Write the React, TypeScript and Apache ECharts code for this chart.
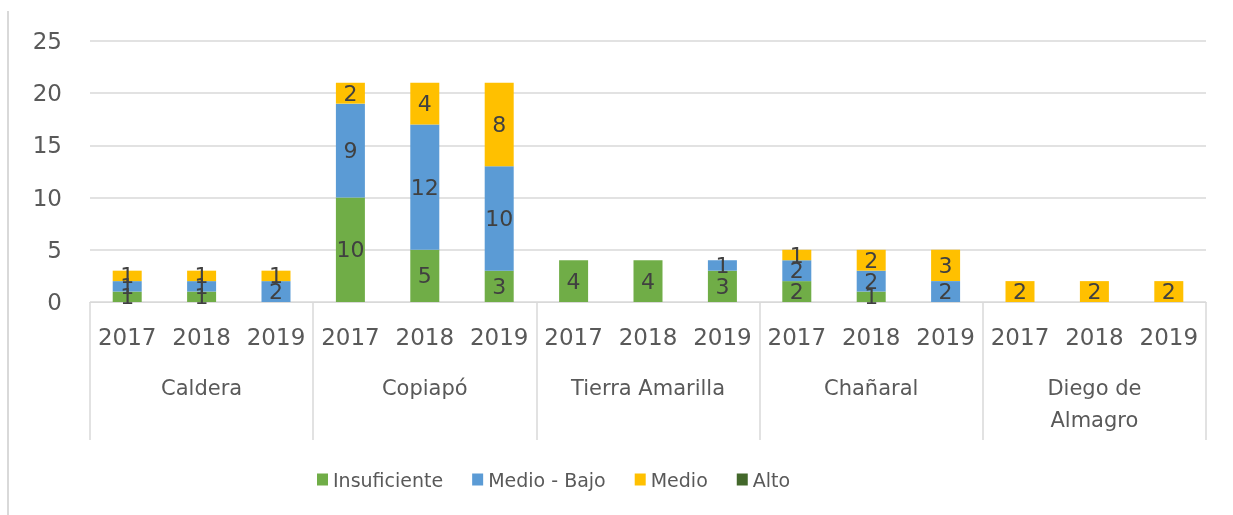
import React, { useEffect, useRef } from "react";
import * as echarts from "echarts";

const years = ["2017", "2018", "2019", "2017", "2018", "2019", "2017", "2018", "2019", "2017", "2018", "2019", "2017", "2018", "2019"];
const communes = ["Caldera", "Copiapó", "Tierra Amarilla", "Chañaral", "Diego de\nAlmagro"];
const insuficiente = [1, 1, 0, 10, 5, 3, 4, 4, 3, 2, 1, 0, 0, 0, 0];
const medioBajo = [1, 1, 2, 9, 12, 10, 0, 0, 1, 2, 2, 2, 0, 0, 0];
const medio = [1, 1, 1, 2, 4, 8, 0, 0, 0, 1, 2, 3, 2, 2, 2];
const alto = [0, 0, 0, 0, 0, 0, 0, 0, 0, 0, 0, 0, 0, 0, 0];
const yTicks = { min: 0, max: 25, interval: 5 };

const FONT = "DejaVu Sans";

export default function App() {
  const ref = useRef<HTMLDivElement>(null);
  useEffect(() => {
    if (!ref.current) return;
    const chart = echarts.init(ref.current, null, { renderer: "svg" });
    const label = {
      show: true,
      position: "inside",
      color: "#404040",
      fontSize: 22,
      fontFamily: FONT,
      formatter: (p: any) => (p.value === 0 ? "" : String(p.value)),
    };
    const mk = (name: string, data: number[], color: string) => ({
      name,
      type: "bar",
      stack: "total",
      data,
      barWidth: 29,
      itemStyle: { color },
      label,
      emphasis: { disabled: true },
    });
    chart.setOption({
      animation: false,
      textStyle: { fontFamily: FONT },
      grid: { left: 90, right: 27, top: 41, bottom: 213 },
      legend: {
        left: 312,
        top: 465,
        itemWidth: 11,
        itemHeight: 12,
        itemGap: 29,
        icon: "rect",
        textStyle: { fontSize: 19, color: "#595959", fontFamily: FONT },
        data: ["Insuficiente", "Medio - Bajo", "Medio", "Alto"],
      },
      xAxis: [
        {
          type: "category",
          data: years,
          position: "bottom",
          axisLine: { lineStyle: { color: "#d9d9d9", width: 1 } },
          axisTick: { show: false },
          axisLabel: { interval: 0, margin: 22, fontSize: 23, color: "#595959", lineHeight: 26, fontFamily: FONT },
        },
        {
          type: "category",
          data: communes,
          position: "bottom",
          offset: 0,
          axisLine: { show: false },
          axisTick: { show: true, length: 138, interval: 0, lineStyle: { color: "#d9d9d9", width: 1.5 } },
          axisLabel: { interval: 0, margin: 70, fontSize: 21, color: "#595959", lineHeight: 32, fontFamily: FONT },
        },
      ],
      yAxis: {
        type: "value",
        min: yTicks.min,
        max: yTicks.max,
        interval: yTicks.interval,
        axisLine: { show: false },
        axisTick: { show: false },
        splitLine: { lineStyle: { color: "#d9d9d9", width: 1.5 } },
        axisLabel: { margin: 28, fontSize: 23, color: "#595959", fontFamily: FONT },
      },
      graphic: [
        {
          type: "line",
          shape: { x1: 8, y1: 11, x2: 8, y2: 515 },
          style: { stroke: "#d9d9d9", lineWidth: 2 },
        },
      ],
      series: [
        mk("Insuficiente", insuficiente, "#70AD47"),
        mk("Medio - Bajo", medioBajo, "#5B9BD5"),
        mk("Medio", medio, "#FFC000"),
        mk("Alto", alto, "#43682B"),
      ],
    });
    return () => chart.dispose();
  }, []);
  return <div ref={ref} style={{ position: "fixed", left: 0, top: 0, width: 1233, height: 515 }} />;
}
